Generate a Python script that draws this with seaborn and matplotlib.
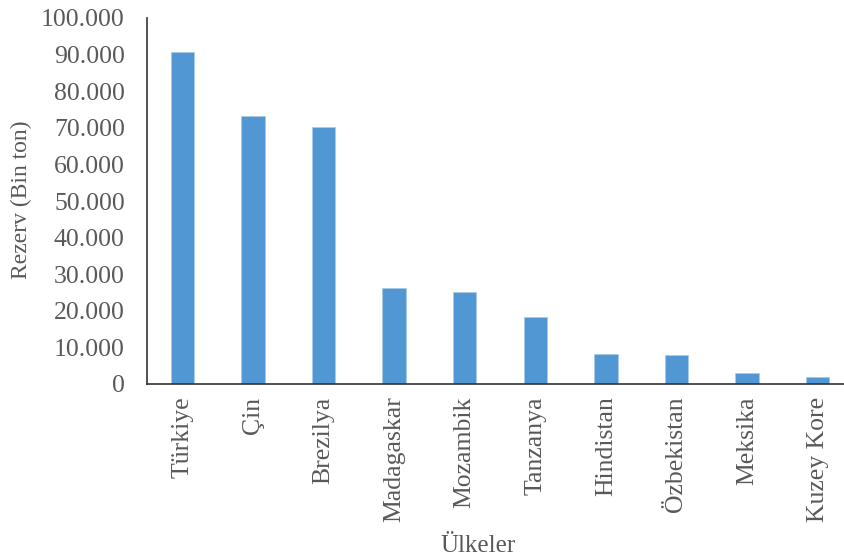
import matplotlib
matplotlib.use("Agg")
import matplotlib.pyplot as plt
import seaborn as sns
import pandas as pd
from matplotlib.ticker import FuncFormatter

countries = ["Türkiye", "Çin", "Brezilya", "Madagaskar", "Mozambik",
             "Tanzanya", "Hindistan", "Özbekistan", "Meksika", "Kuzey Kore"]
reserves = [90600, 73300, 70300, 26300, 25200, 18200, 8200, 7800, 3000, 1900]
yticks = [0, 10000, 20000, 30000, 40000, 50000, 60000, 70000, 80000, 90000, 100000]

sns.set_style("white")
plt.rcParams['font.family'] = ['Liberation Serif', 'DejaVu Serif']

df = pd.DataFrame({"Ülkeler": countries, "Rezerv": reserves})

fig = plt.figure(figsize=(8.45, 5.6), dpi=100)
ax = fig.add_axes([147/845, 1-384/560, 706/845, (384-18)/560])
sns.barplot(data=df, x="Ülkeler", y="Rezerv", color="#5197D4", width=0.33,
            saturation=1, ax=ax, edgecolor="#A9CBEA", linewidth=0.6)

ax.set_xlim(-0.5, 9.5)
ax.set_ylim(0, 100000)
ax.set_yticks(yticks)
ax.yaxis.set_major_formatter(FuncFormatter(lambda v, p: f"{int(v):,}".replace(",", ".")))
ax.tick_params(axis="both", length=0, labelsize=18.5, labelcolor="#595959")
ax.tick_params(axis="y", pad=16)
ax.tick_params(axis="x", pad=9)
plt.setp(ax.get_xticklabels(), rotation=90)
for s in ["top", "right"]:
    ax.spines[s].set_visible(False)
for s in ["left", "bottom"]:
    ax.spines[s].set_color("#333333")
    ax.spines[s].set_linewidth(1.2)
ax.set_ylabel("Rezerv (Bin ton)", fontsize=17, color="#595959")
ax.set_xlabel("Ülkeler", fontsize=18, color="#595959")
ax.yaxis.set_label_coords(-0.163, 0.503)
ax.xaxis.set_label_coords(0.469, -0.413)

fig.savefig("out.png", dpi=100)
